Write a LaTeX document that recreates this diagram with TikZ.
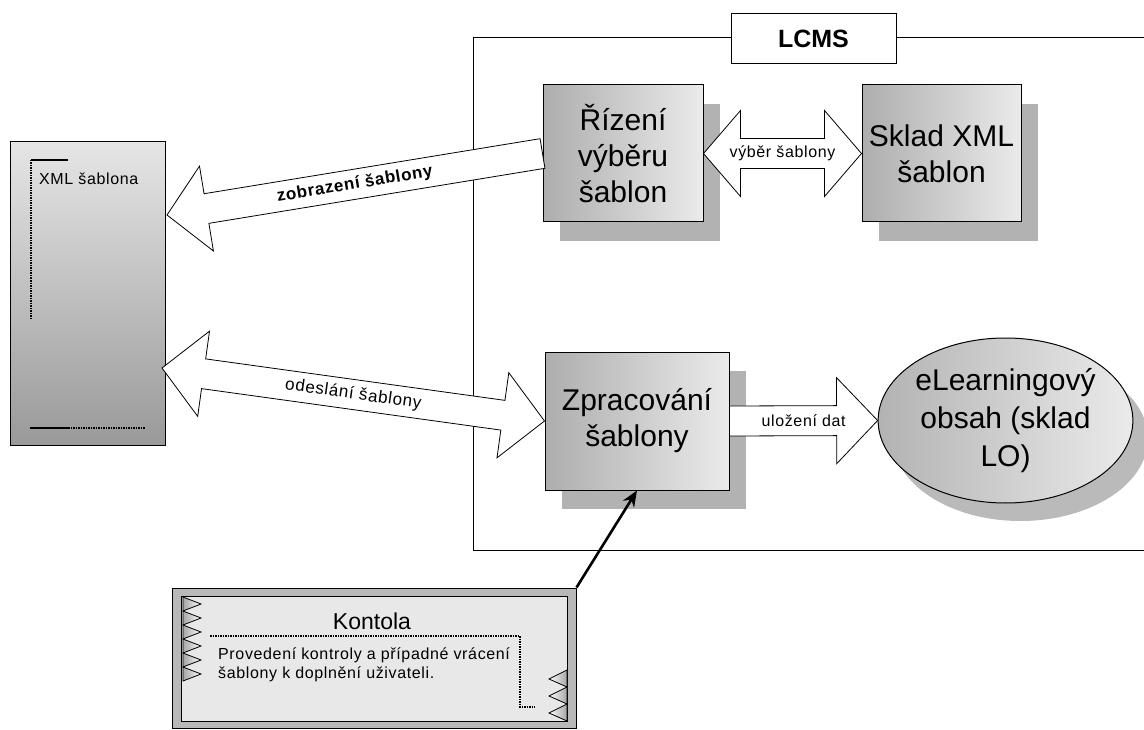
\documentclass[tikz,border=0pt]{standalone}
\usepackage{fontspec}
\setmainfont{Liberation Sans}
\newfontfamily\spaced[LetterSpace=4]{Liberation Sans}
\usetikzlibrary{arrows.meta,positioning,shapes.geometric,calc,shadows}
\newcommand\boxfont{\fontsize{30}{36}\selectfont}
\newcommand\smallfont{\spaced\fontsize{16}{19}\selectfont}
\newcommand\slantfont{\fontsize{17}{20}\selectfont}
% block arrows: tail, tip, head length, label
\newcommand\onearrow[4]{%
  \coordinate (hd) at ($(#2)!#3!(#1)$);
  \draw[blk] ($(#1)!15pt!90:(#2)$) -- ($(hd)!15pt!-90:(#1)$) -- ($(hd)!43pt!-90:(#1)$) -- (#2)
    -- ($(hd)!43pt!90:(#1)$) -- ($(hd)!15pt!90:(#1)$) -- ($(#1)!15pt!-90:(#2)$) -- cycle;
  \path (#1) -- (#2) node[midway,sloped,lbl] {#4};}
\newcommand\twoarrow[4]{%
  \coordinate (ha) at ($(#1)!#3!(#2)$);
  \coordinate (hb) at ($(#2)!#3!(#1)$);
  \draw[blk] (#1) -- ($(ha)!43pt!90:(#2)$) -- ($(ha)!15pt!90:(#2)$) -- ($(hb)!15pt!-90:(#1)$)
    -- ($(hb)!43pt!-90:(#1)$) -- (#2) -- ($(hb)!43pt!90:(#1)$) -- ($(hb)!15pt!90:(#1)$)
    -- ($(ha)!15pt!-90:(#2)$) -- ($(ha)!43pt!-90:(#2)$) -- cycle;
  \path (#1) -- (#2) node[midway,sloped,lbl] {#4};}
\tikzset{
  procbox/.style={draw,line width=1pt,align=center,inner sep=0pt,font=\boxfont,left color=black!32,right color=black!8,
    drop shadow={shadow xshift=17pt,shadow yshift=-19pt,fill=black!30,opacity=1}},
  blk/.style={draw,fill=white,line width=0.8pt,line join=miter},
  lbl/.style={font=\smallfont,inner sep=0pt},
  lcmsline/.style={line width=1pt},
  zig/.style={draw,line width=0.8pt,left color=black!35,right color=white},
  dots/.style={dash pattern=on 1.5pt off 1pt,line width=1.2pt},
}

\begin{document}
\begin{tikzpicture}[x=1pt,y=-1pt]
\useasboundingbox (0,0) rectangle (1144,730);
\draw[lcmsline] (1144,38) -- (473,38) -- (473,550) -- (1144,550);
\node[draw,fill=white,line width=1pt,minimum width=165pt,minimum height=50pt,font=\fontsize{25}{30}\selectfont\bfseries] (lcms) at (813.5,39) {LCMS};

% template on the left
\node[draw,line width=1pt,top color=black!10,bottom color=black!40,minimum width=155pt,minimum height=303pt] (sablona) at (87.5,293.5) {};
\draw[line width=1.2pt] (68,160) -- (31,160);
\draw[dots] (31,160) -- (31,318);
\draw[line width=1.2pt] (30,428) -- (68,428);
\draw[dots] (68,428) -- (145,428);
\node[lbl,anchor=base west] (xmltxt) at (39,185) {XML šablona};

\node[procbox,minimum width=160pt,minimum height=137pt] (rizeni) at (623,153.5) {Řízení\\výběru\\šablon};
\node[procbox,minimum width=159pt,minimum height=137pt] (sklad) at (941.5,153.5) {Sklad XML\\šablon};
\node[procbox,minimum width=184pt,minimum height=138pt] (zprac) at (637,421) {Zpracování\\šablony};
\node[ellipse,draw,line width=1pt,left color=black!30,right color=black!8,minimum width=245pt,minimum height=165pt,inner sep=0pt,align=center,font=\fontsize{30}{38}\selectfont,
  drop shadow={shadow xshift=15pt,shadow yshift=-18pt,fill=black!27,opacity=1}] (obsah) at (1005.5,420.5) {eLearningový\\obsah (sklad\\LO)};

\coordinate (zobtip) at (167,215);
\coordinate (odetip) at (162,368);
\onearrow{rizeni.west}{zobtip}{40pt}{\slantfont\bfseries zobrazení šablony}
\twoarrow{odetip}{zprac.west}{42pt}{\slantfont odeslání šablony}
\twoarrow{rizeni.east}{sklad.west}{37pt}{výběr šablony}
\onearrow{zprac.east}{obsah.west}{41pt}{uložení dat}

% Kontola
\node[draw,line width=1pt,fill=black!28,minimum width=404pt,minimum height=140pt] (kontola) at (374,658) {};
\draw[line width=1pt,fill=black!9] ($(kontola.north west)+(10,9)$) rectangle ($(kontola.south east)+(-9,-7)$);
\draw[zig] (183,597) \foreach \i in {0,...,5} {-- (201,{604+14*\i}) -- (183,{611+14*\i})} -- cycle;
\draw[zig,left color=white,right color=black!35] (567,670) \foreach \i in {0,1,2} {-- (549,{679+17*\i}) -- (567,{687+17*\i})} -- cycle;
\draw[dots] (210,636) -- (520,636) -- (520,707) -- (535,707);
\node[font=\fontsize{23}{28}\selectfont] (kontitle) at (372,621) {Kontola};
\node[anchor=north west,align=left,inner sep=0pt,font=\smallfont] (kontext) at (218,648) {Provedení kontroly a případné vrácení\\šablony k doplnění uživateli.};
\draw[-{Stealth[length=16pt,width=13pt]},line width=2.6pt] (kontola.north east) -- (zprac.south);
\end{tikzpicture}
\end{document}
